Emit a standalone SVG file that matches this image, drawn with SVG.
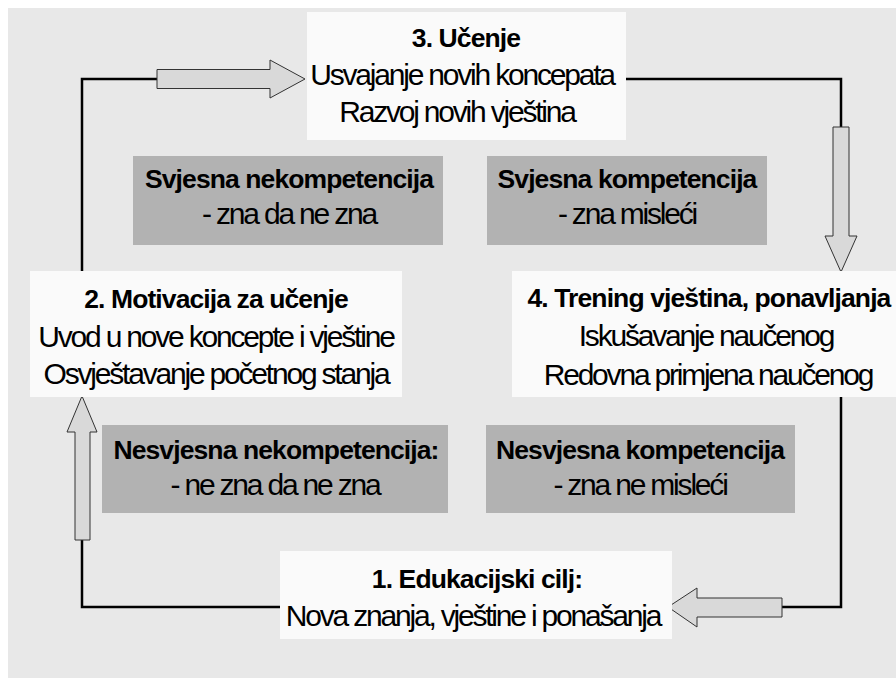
<svg xmlns="http://www.w3.org/2000/svg" width="896" height="678" viewBox="0 0 896 678">
<style>
text{font-family:"Liberation Sans",Arial,sans-serif;fill:#000;text-anchor:middle}
.r{font-size:30px;letter-spacing:-2.2px}
.b{font-size:26.5px;font-weight:bold;letter-spacing:-0.9px}
.box{fill:#fafafa}
.gray{fill:#b2b2b2}
.line{fill:none;stroke:#000;stroke-width:2.5}
.arrow{fill:#d9d9d9;stroke:#333;stroke-width:1}
</style>
<rect x="0" y="0" width="896" height="678" fill="#ffffff"/>
<rect x="8" y="8" width="888" height="670" fill="#e8e8e8"/>
<g id="connectors">
<polyline class="line" points="157,79 82,79 82,271"/>
<polyline class="line" points="621,79 841,79 841,127"/>
<polyline class="line" points="841,397 841,607 782,607"/>
<polyline class="line" points="280,607 82,607 82,540"/>
<polygon class="arrow" points="157,69.5 270,69.5 270,60 305,79 270,98 270,88.5 157,88.5"/>
<polygon class="arrow" points="833,127 849,127 849,236 857,236 841,272 825,236 833,236"/>
<polygon class="arrow" points="782,598 697,598 697,588 668,607 697,627 697,617 782,617"/>
<polygon class="arrow" points="75,540 75,432 67,432 82,396 97,432 90,432 90,540"/>
</g>
<g id="node3">
<rect class="box" x="307" y="12" width="319" height="128"/>
<text class="b" x="466" y="47">3. Učenje</text>
<text class="r" x="462" y="85">Usvajanje novih koncepata</text>
<text class="r" x="457" y="122">Razvoj novih vještina</text>
</g>
<g id="node2">
<rect class="box" x="30" y="271" width="372" height="126"/>
<text class="b" x="216" y="308">2. Motivacija za učenje</text>
<text class="r" x="216" y="346.5">Uvod u nove koncepte i vještine</text>
<text class="r" x="216" y="384">Osvještavanje početnog stanja</text>
</g>
<g id="node4">
<rect class="box" x="512" y="271" width="384" height="126"/>
<text class="b" x="709" y="307">4. Trening vještina, ponavljanja</text>
<text class="r" x="706" y="346">Iskušavanje naučenog</text>
<text class="r" x="708" y="385">Redovna primjena naučenog</text>
</g>
<g id="node1">
<rect class="box" x="280" y="551" width="392" height="88"/>
<text class="b" x="477" y="588">1. Edukacijski cilj:</text>
<text class="r" x="473" y="626">Nova znanja, vještine i ponašanja</text>
</g>
<g id="svjesna-nekompetencija">
<rect class="gray" x="133" y="156" width="310" height="89"/>
<text class="b" x="289" y="188">Svjesna nekompetencija</text>
<text class="r" x="289" y="224">- zna da ne zna</text>
</g>
<g id="svjesna-kompetencija">
<rect class="gray" x="487" y="156" width="280" height="89"/>
<text class="b" x="627" y="188">Svjesna kompetencija</text>
<text class="r" x="627" y="224">- zna misleći</text>
</g>
<g id="nesvjesna-nekompetencija">
<rect class="gray" x="102" y="425" width="346" height="88"/>
<text class="b" x="276" y="459">Nesvjesna nekompetencija:</text>
<text class="r" x="275" y="495">- ne zna da ne zna</text>
</g>
<g id="nesvjesna-kompetencija">
<rect class="gray" x="486" y="425" width="309" height="88"/>
<text class="b" x="640" y="459">Nesvjesna kompetencija</text>
<text class="r" x="640" y="495">- zna ne misleći</text>
</g>
</svg>
